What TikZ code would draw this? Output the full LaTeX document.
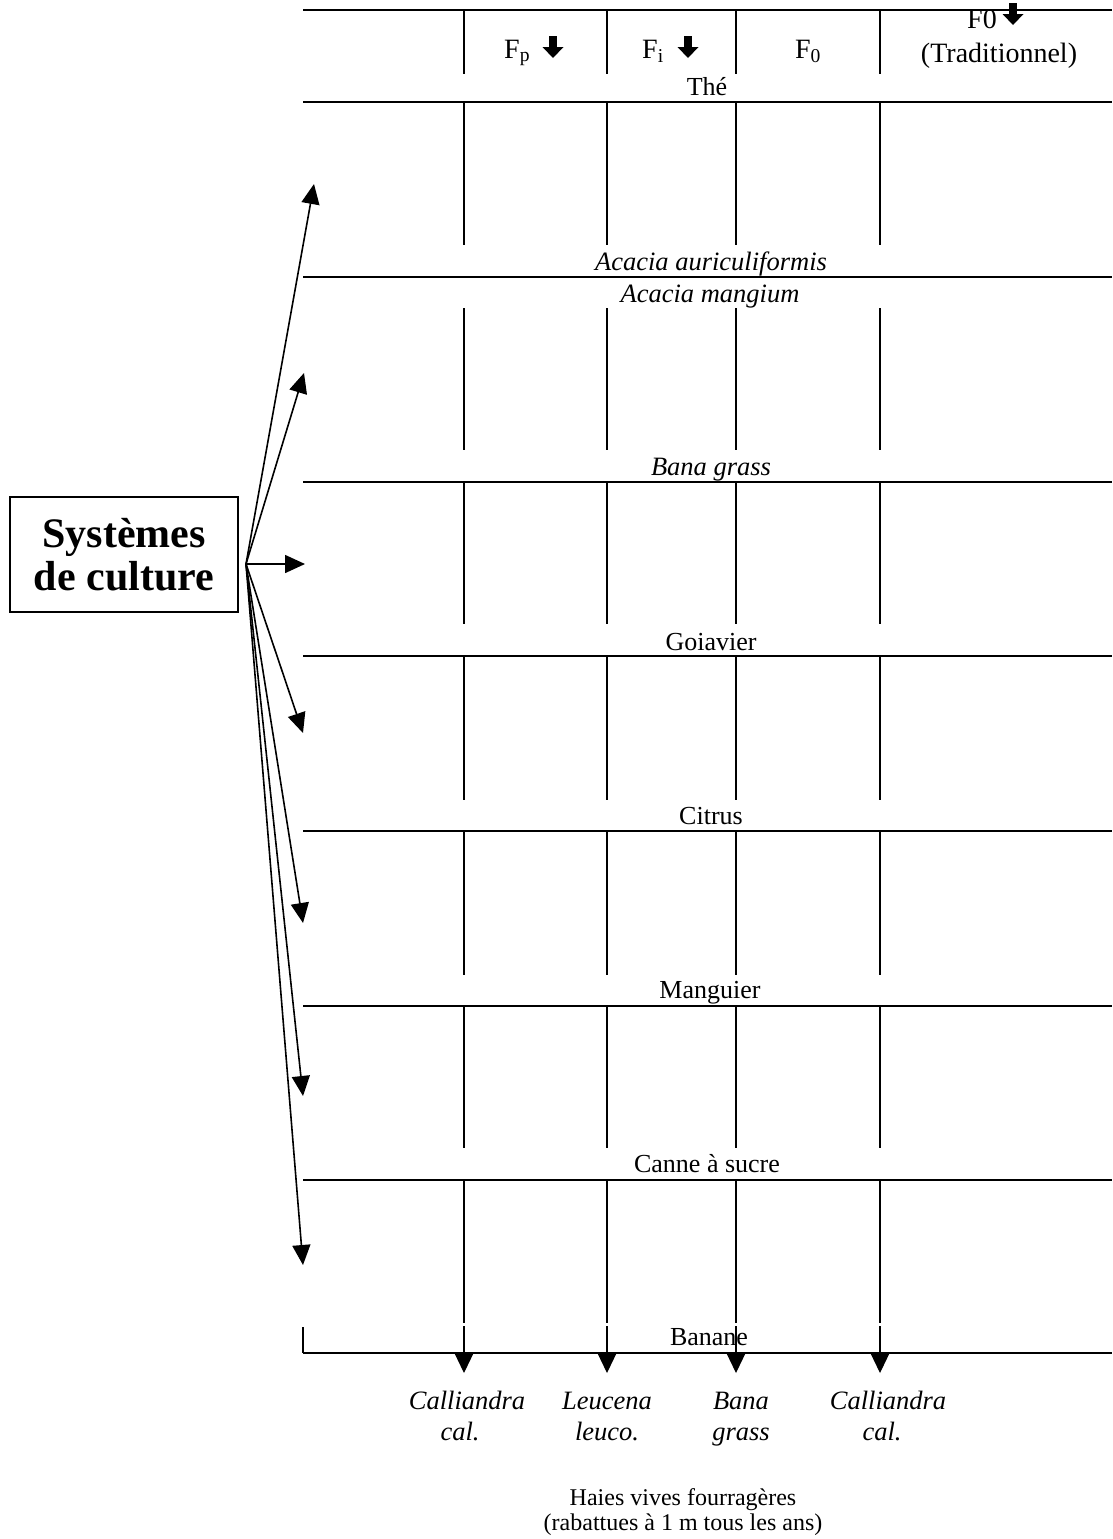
\documentclass[tikz,border=0pt]{standalone}
\usepackage{fontspec}
\setmainfont{Liberation Serif}
\usetikzlibrary{arrows.meta}

\begin{document}
\begin{tikzpicture}[x=1pt,y=-1pt,
  rule/.style={line width=2pt},
  colrule/.style={line width=1.8pt},
  lbl/.style={font=\fontsize{26}{30}\selectfont, inner sep=0pt, anchor=base},
  ilbl/.style={font=\fontsize{26.5}{30}\selectfont\itshape, inner sep=0pt, anchor=base},
  hdr/.style={font=\fontsize{28}{32}\selectfont, inner sep=0pt, anchor=base},
  captxt/.style={font=\fontsize{24}{28}\selectfont, inner sep=0pt, anchor=base},
  fan/.style={line width=1.6pt, -{Triangle[length=20pt,width=18pt]}},
  drop/.style={line width=1.1pt, -{Triangle[length=20pt,width=19pt]}},
  sysbox/.style={draw, line width=1.8pt, minimum width=228pt, minimum height=115pt,
    align=center, inner sep=0pt, font=\fontsize{42}{43}\selectfont\bfseries},
]
\useasboundingbox (0,0) rectangle (1112,1539);

% horizontal rules of the table
\foreach \y in {10,102,277,482,656,831,1006,1180,1353}
  \draw[rule] (303,\y) -- (1112,\y);

% column separators, row by row
\foreach \x in {464,607,736,880}
  \foreach \a/\b in {10/74,102/245,308/450,482/624,656/800,831/975,1006/1148,1180/1323}
    \draw[colrule] (\x,\a) -- (\x,\b);
\draw[colrule] (303,1327) -- (303,1353);

% header
\node[hdr, anchor=base west] (hp) at (504,58) {F\textsubscript{p}};
\node[hdr, anchor=base west] (hi) at (642,58) {F\textsubscript{i}};
\node[hdr] (hz) at (808,58) {F\textsubscript{0}};
\node[hdr, anchor=base west] (ht) at (967,28) {F0};
\node[hdr] (htr) at (999,62) {(Traditionnel)};
% bold downward arrows after the fertilisation labels (tip points)
\coordinate (bp1) at (553,58);
\coordinate (bp2) at (688,58);
\coordinate (bp3) at (1013,25);
\foreach \n in {1,2,3}
  \fill[shift={(bp\n)}] (-3.8,-22) -- (3.8,-22) -- (3.8,-11) -- (10.5,-11) -- (0,0)
    -- (-10.5,-11) -- (-3.8,-11) -- cycle;

% crop labels
\node[lbl]  (the)  at (707,95)   {Thé};
\node[ilbl] (aaur) at (711,270)  {Acacia auriculiformis};
\node[ilbl] (aman) at (710,302)  {Acacia mangium};
\node[ilbl] (bana) at (711,475)  {Bana grass};
\node[lbl]  (goi)  at (711,650)  {Goiavier};
\node[lbl]  (cit)  at (711,824)  {Citrus};
\node[lbl]  (man)  at (710,998)  {Manguier};
\node[lbl]  (can)  at (707,1172) {Canne à sucre};
\node[lbl]  (ban)  at (709,1345) {Banane};

% source box and fan of arrows
\node[sysbox] (sys) at (124,554.5) {Systèmes\\de culture};
\coordinate (src) at (246,564);
\coordinate (t1) at (314,184);
\coordinate (t2) at (304,373);
\coordinate (t3) at (305,564);
\coordinate (t4) at (303,733);
\coordinate (t5) at (303,923);
\coordinate (t6) at (303,1096);
\coordinate (t7) at (303,1265);
\foreach \t in {t1,t2,t3,t4,t5,t6,t7}
  \draw[fan] (src) -- (\t);

% hedge species below the table
\node[ilbl] (h1a) at (467,1409) {Calliandra};
\node[ilbl] (h1b) at (460,1440) {cal.};
\node[ilbl] (h2a) at (607,1409) {Leucena};
\node[ilbl] (h2b) at (607,1440) {leuco.};
\node[ilbl] (h3a) at (741,1409) {Bana};
\node[ilbl] (h3b) at (741,1440) {grass};
\node[ilbl] (h4a) at (888,1409) {Calliandra};
\node[ilbl] (h4b) at (882,1440) {cal.};
\foreach \x/\n in {464/1,607/2,736/3,880/4} {
  \coordinate (d\n) at (\x,1326);
  \coordinate (e\n) at (\x,1373);
  \draw[drop] (d\n) -- (e\n);
}

\node[captxt] (hv1) at (683,1505) {Haies vives fourragères};
\node[captxt] (hv2) at (683,1530) {(rabattues à 1 m tous les ans)};
\end{tikzpicture}
\end{document}
